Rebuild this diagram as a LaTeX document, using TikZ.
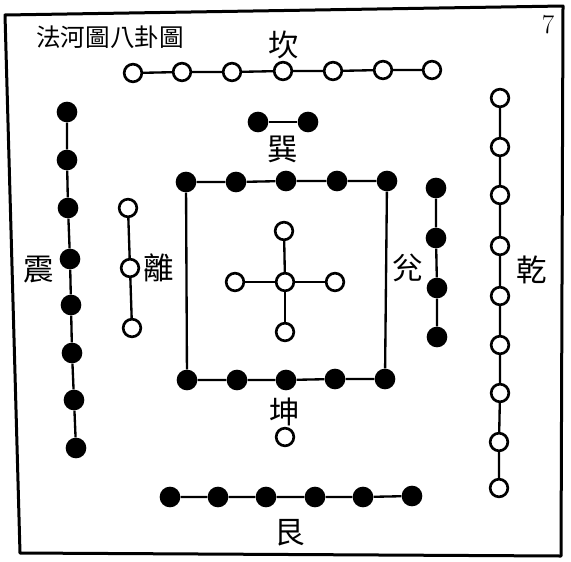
\documentclass[tikz,border=0pt]{standalone}
\usepackage{fontspec}
\newfontfamily\cjk{Noto Sans CJK TC}
\tikzset{
  yin/.style={circle, fill=black, inner sep=0pt, minimum size=6.2mm},
  yang/.style={circle, draw=black, fill=white, line width=0.8mm, inner sep=0pt, minimum size=5.3mm},
  gua/.style={font=\cjk\fontsize{26}{26}\selectfont, inner sep=0pt},
  link/.style={line width=0.7mm}
}

\begin{document}
\begin{tikzpicture}[x=0.03cm, y=-0.03cm]
		\useasboundingbox (0,0) rectangle (571,561);
		% Frame
		\draw[line width=0.9mm, line join=round] (5,15) -- (563,6) -- (561,556) -- (20,553) -- cycle;
		\node[font=\cjk\fontsize{21}{21}\selectfont, inner sep=0pt] (title) at (110,37) {法河圖八卦圖};
		\node[font=\fontsize{23}{23}\selectfont, inner sep=0pt] (page) at (548,25) {7};

		% Kan (top)
		\node[yang] (k1) at (133,73) {};
		\node[yang] (k2) at (182,72) {};
		\node[yang] (k3) at (232,72) {};
		\node[yang] (k4) at (283,71) {};
		\node[yang] (k5) at (333,71) {};
		\node[yang] (k6) at (383,70) {};
		\node[yang] (k7) at (432,70) {};
		\node[gua] (kan) at (284,45) {坎};
		\draw[link] (k1) -- (k2) -- (k3) -- (k4) -- (k5) -- (k6) -- (k7);

		% Xun
		\node[yin] (x1) at (258,122) {};
		\node[yin] (x2) at (308,122) {};
		\node[gua] (xun) at (283,149) {巽};
		\draw[link] (x1) -- (x2);

		% Kun square
		\node[yin] (s1) at (186,182) {};
		\node[yin] (s2) at (236,182) {};
		\node[yin] (s3) at (286,181) {};
		\node[yin] (s4) at (337,181) {};
		\node[yin] (s5) at (387,181) {};
		\node[yin] (t1) at (187,380) {};
		\node[yin] (t2) at (237,380) {};
		\node[yin] (t3) at (286,380) {};
		\node[yin] (t4) at (335,379) {};
		\node[yin] (t5) at (385,379) {};
		\draw[link] (s1) -- (s2) -- (s3) -- (s4) -- (s5);
		\draw[link] (t1) -- (t2) -- (t3) -- (t4) -- (t5);
		\draw[link] (s1) -- (t1);
		\draw[link] (s5) -- (t5);
		\node[gua] (kun) at (285,412) {坤};
		\node[yang] (kd) at (285,437) {};

		% Centre cross
		\node[yang] (c) at (285,282) {};
		\node[yang] (cn) at (284,231) {};
		\node[yang] (cs) at (285,332) {};
		\node[yang] (cw) at (235,282) {};
		\node[yang] (ce) at (335,282) {};
		\draw[link] (c) -- (cn);
		\draw[link] (c) -- (cs);
		\draw[link] (c) -- (cw);
		\draw[link] (c) -- (ce);

		% Gen (bottom)
		\node[yin] (g1) at (170,497) {};
		\node[yin] (g2) at (218,497) {};
		\node[yin] (g3) at (266,497) {};
		\node[yin] (g4) at (315,497) {};
		\node[yin] (g5) at (363,497) {};
		\node[yin] (g6) at (412,496) {};
		\node[gua] (gen) at (290,533) {艮};
		\draw[link] (g1) -- (g2) -- (g3) -- (g4) -- (g5) -- (g6);

		% Zhen (left)
		\node[yin] (z1) at (67,112) {};
		\node[yin] (z2) at (67,160) {};
		\node[yin] (z3) at (68,208) {};
		\node[yin] (z4) at (70,259) {};
		\node[yin] (z5) at (71,305) {};
		\node[yin] (z6) at (72,353) {};
		\node[yin] (z7) at (74,400) {};
		\node[yin] (z8) at (76,448) {};
		\node[gua] (zhen) at (39,270) {震};
		\draw[link] (z1) -- (z2) -- (z3) -- (z4) -- (z5) -- (z6) -- (z7) -- (z8);

		% Li
		\node[yang] (l1) at (128,208) {};
		\node[yang] (l2) at (130,268) {};
		\node[yang] (l3) at (132,328) {};
		\node[gua] (li) at (159,268) {離};
		\draw[link] (l1) -- (l2) -- (l3);

		% Dui
		\node[yin] (d1) at (436,188) {};
		\node[yin] (d2) at (436,238) {};
		\node[yin] (d3) at (437,288) {};
		\node[yin] (d4) at (437,337) {};
		\node[gua] (dui) at (408,268) {兊};
		\draw[link] (d1) -- (d2) -- (d3) -- (d4);

		% Qian (right)
		\node[yang] (q1) at (500,98) {};
		\node[yang] (q2) at (500,147) {};
		\node[yang] (q3) at (500,195) {};
		\node[yang] (q4) at (500,246) {};
		\node[yang] (q5) at (500,296) {};
		\node[yang] (q6) at (500,345) {};
		\node[yang] (q7) at (500,393) {};
		\node[yang] (q8) at (499,442) {};
		\node[yang] (q9) at (499,488) {};
		\node[gua] (qian) at (532,270) {乾};
		\draw[link] (q1) -- (q2) -- (q3) -- (q4) -- (q5) -- (q6) -- (q7) -- (q8) -- (q9);
	\end{tikzpicture}
\end{document}
